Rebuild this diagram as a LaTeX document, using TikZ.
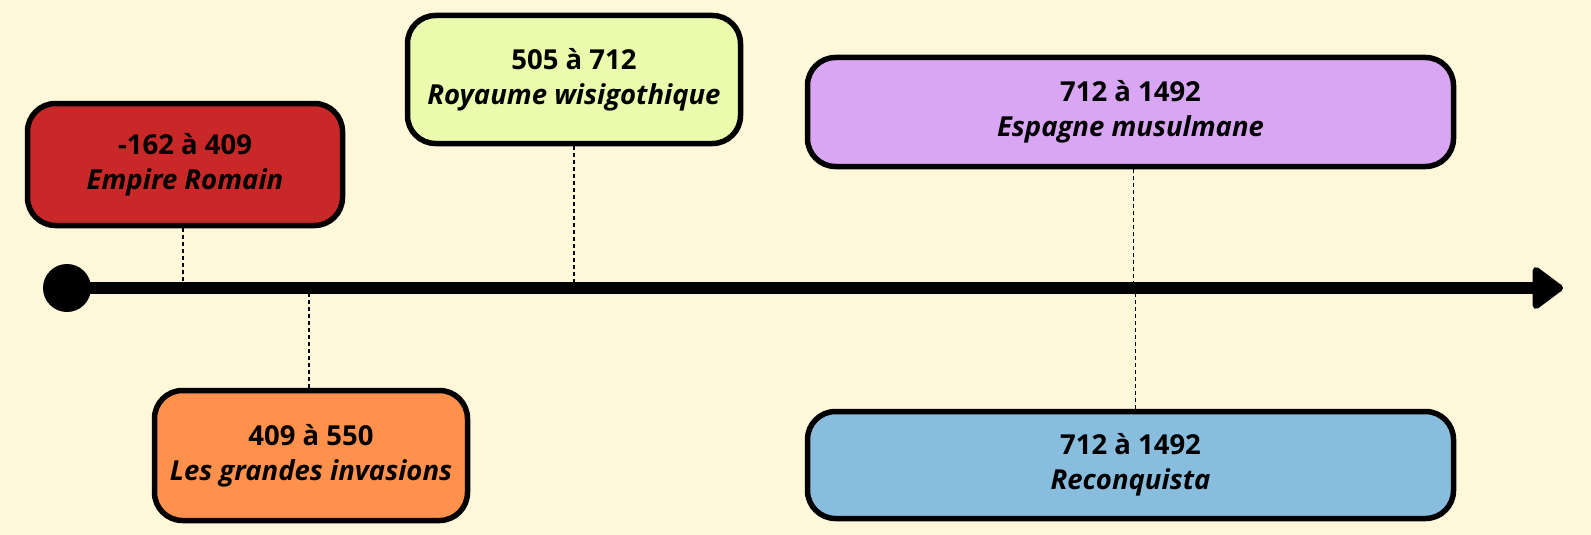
\documentclass[tikz,border=0pt]{standalone}
\usepackage{fontspec}
\setmainfont{Open Sans}
\usepackage{xcolor}
\usetikzlibrary{arrows.meta}

\definecolor{fond}{HTML}{FFF7DA}
\definecolor{rouge}{HTML}{C92828}
\definecolor{orange}{HTML}{FF914D}
\definecolor{vert}{HTML}{EBFBAE}
\definecolor{mauve}{HTML}{D8A6F2}
\definecolor{bleu}{HTML}{89BDDE}

\begin{document}
\begin{tikzpicture}[x=1pt, y=-1pt, period node/.style={draw, line width=5.5pt, rounded corners=28pt, align=center, inner sep=0pt, font=\fontsize{27.5}{35}\selectfont\bfseries}, link/.style={line width=1.5pt, dash pattern=on 4pt off 3pt}]

			% background
			\fill[fond] (0,0) rectangle (1591,535);

			\node[period node, fill=rouge, minimum width=315pt, minimum height=122pt] (romain) at (185,164.5) {-162 à 409\\\itshape Empire Romain};
			\node[period node, fill=orange, minimum width=313pt, minimum height=130pt] (invasions) at (311,455.5) {409 à 550\\\itshape Les grandes invasions};
			\node[period node, fill=vert, minimum width=333pt, minimum height=128pt] (wisigoth) at (574,79.5) {505 à 712\\\itshape Royaume wisigothique};
			\node[period node, fill=mauve, minimum width=646pt, minimum height=109pt] (musulmane) at (1130.5,112) {712 à 1492\\\itshape Espagne musulmane};
			\node[period node, fill=bleu, minimum width=646pt, minimum height=107pt] (reconquista) at (1130.5,465) {712 à 1492\\\itshape Reconquista};

			\node[circle, fill=black, minimum size=48pt, inner sep=0pt] (debut) at (67,288) {};
			\coordinate (fin) at (1563,288);

			% draw dashed links to the axis
			\draw[link] ([xshift=-2pt]romain.south) -- ([xshift=-2pt]romain.south |- debut);
			\draw[link] ([xshift=-2pt]invasions.north) -- ([xshift=-2pt]invasions.north |- debut);
			\draw[link] (wisigoth.south) -- (wisigoth.south |- debut);
			\draw[link] ([xshift=3pt]musulmane.south) -- ([xshift=3pt]musulmane.south |- debut);
			\draw[link] ([xshift=5pt]reconquista.north) -- ([xshift=5pt]reconquista.north |- debut);

			% draw timeline
			\draw[line width=12pt, -{Triangle[length=33pt, width=47pt, line width=7pt, round]}] (debut.center) -- (fin);

		\end{tikzpicture}
\end{document}
